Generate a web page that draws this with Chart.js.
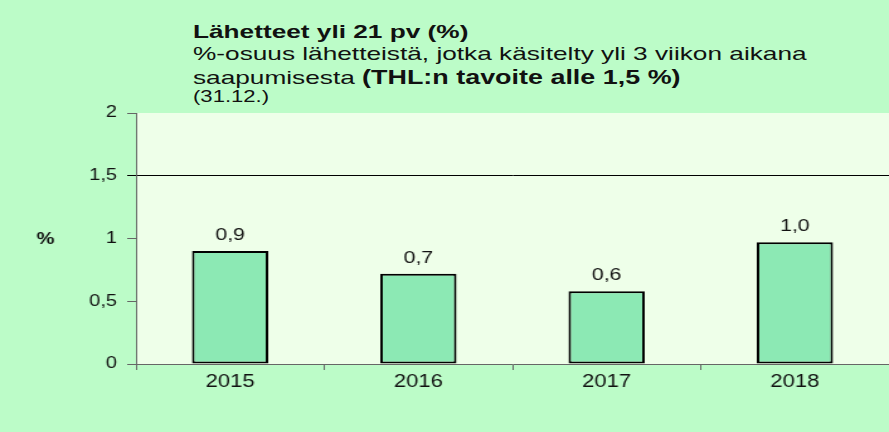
<!DOCTYPE html>
<html>
<head>
<meta charset="utf-8">
<script src="https://cdn.jsdelivr.net/npm/chart.js@4"></script>
<style>
  html, body { margin: 0; padding: 0; }
  body { width: 889px; height: 432px; background: #bcfcc8; position: relative; overflow: hidden;
         font-family: "Liberation Sans", Arial, sans-serif; color: #111; }
  .otsikko { position: absolute; left: 193px; top: 0; transform: scaleX(1.38); transform-origin: 0 0; white-space: nowrap; }
  .otsikko div { position: absolute; left: 0; line-height: 1; font-size: 19px; }
  .l1 { top: 22px; font-weight: bold; }
  .l2 { top: 44px; }
  .l3 { top: 68px; }
  .l3 b { font-size: 19.5px; }
  .l4 { top: 89px; font-size: 16px !important; }
  .venytys { position: absolute; left: 0; top: 0; width: 706px; height: 432px; transform: scaleX(1.2592); transform-origin: 0 0; }
</style>
</head>
<body>
<div class="otsikko">
  <div class="l1">Lähetteet yli 21 pv (%)</div>
  <div class="l2">%-osuus lähetteistä, jotka käsitelty yli 3 viikon aikana</div>
  <div class="l3">saapumisesta <b>(THL:n tavoite alle 1,5 %)</b></div>
  <div class="l4">(31.12.)</div>
</div>
<div class="venytys"><canvas id="kaavio"></canvas></div>
<script>
const vuodet = ['2015', '2016', '2017', '2018'];
const osuudet = [0.9, 0.72, 0.58, 0.97];
const yTikit = [0, 0.5, 1, 1.5, 2];
const tavoite = 1.5;

const pilkku = v => String(v).replace('.', ',');

// taustaväri kuva-alueelle
const tausta = {
  id: 'tausta',
  beforeDraw(chart) {
    const { ctx, chartArea: a } = chart;
    ctx.save();
    ctx.fillStyle = '#eeffe9';
    ctx.fillRect(a.left, a.top, a.right - a.left, a.bottom - a.top);
    ctx.restore();
  }
};

// arvot pylväiden päälle + "%" akselin viereen
const arvot = {
  id: 'arvot',
  afterDatasetsDraw(chart) {
    const { ctx } = chart;
    const meta = chart.getDatasetMeta(0);
    ctx.save();
    ctx.font = '17px "Liberation Sans", Arial';
    ctx.fillStyle = '#111';
    ctx.textAlign = 'center';
    meta.data.forEach((bar, i) => {
      ctx.fillText(osuudet[i].toFixed(1).replace('.', ','), bar.x, bar.y - 11);
    });
    const y = chart.scales.y;
    ctx.font = 'bold 16px "Liberation Sans", Arial';
    ctx.textBaseline = 'middle';
    ctx.fillText('%', y.left + 36, y.getPixelForValue(1) + 1);
    ctx.restore();
  }
};

new Chart(document.getElementById('kaavio'), {
  type: 'bar',
  data: {
    labels: vuodet,
    datasets: [{
      data: osuudet,
      backgroundColor: '#8ce9b4',
      borderColor: '#000',
      borderWidth: 2,
      borderSkipped: false,
      categoryPercentage: 1,
      barPercentage: 0.405
    }]
  },
  options: {
    responsive: true,
    maintainAspectRatio: false,
    animation: false,
    devicePixelRatio: 1,
    layout: { padding: { top: 113, bottom: 37, left: 0, right: 0 } },
    plugins: { legend: { display: false }, tooltip: { enabled: false } },
    scales: {
      x: {
        grid: { drawOnChartArea: false, tickLength: 6, color: '#666' },
        border: { color: '#666', width: 1 },
        ticks: { color: '#111', padding: 2, font: { size: 17.5, family: '"Liberation Sans", Arial' } }
      },
      y: {
        min: 0,
        max: 2,
        afterFit: s => { s.width = 108; },
        afterBuildTicks: s => { s.ticks = yTikit.map(v => ({ value: v })); },
        grid: {
          tickLength: 7,
          color: c => (c.tick && c.tick.value === tavoite ? '#000' : 'rgba(0,0,0,0)'),
          tickColor: c => (c.tick && c.tick.value === tavoite ? '#000' : '#666')
        },
        border: { color: '#666', width: 1 },
        ticks: {
          color: '#111',
          padding: 8,
          font: { size: 16, family: '"Liberation Sans", Arial' },
          callback: v => pilkku(v)
        }
      }
    }
  },
  plugins: [tausta, arvot]
});
</script>
</body>
</html>
